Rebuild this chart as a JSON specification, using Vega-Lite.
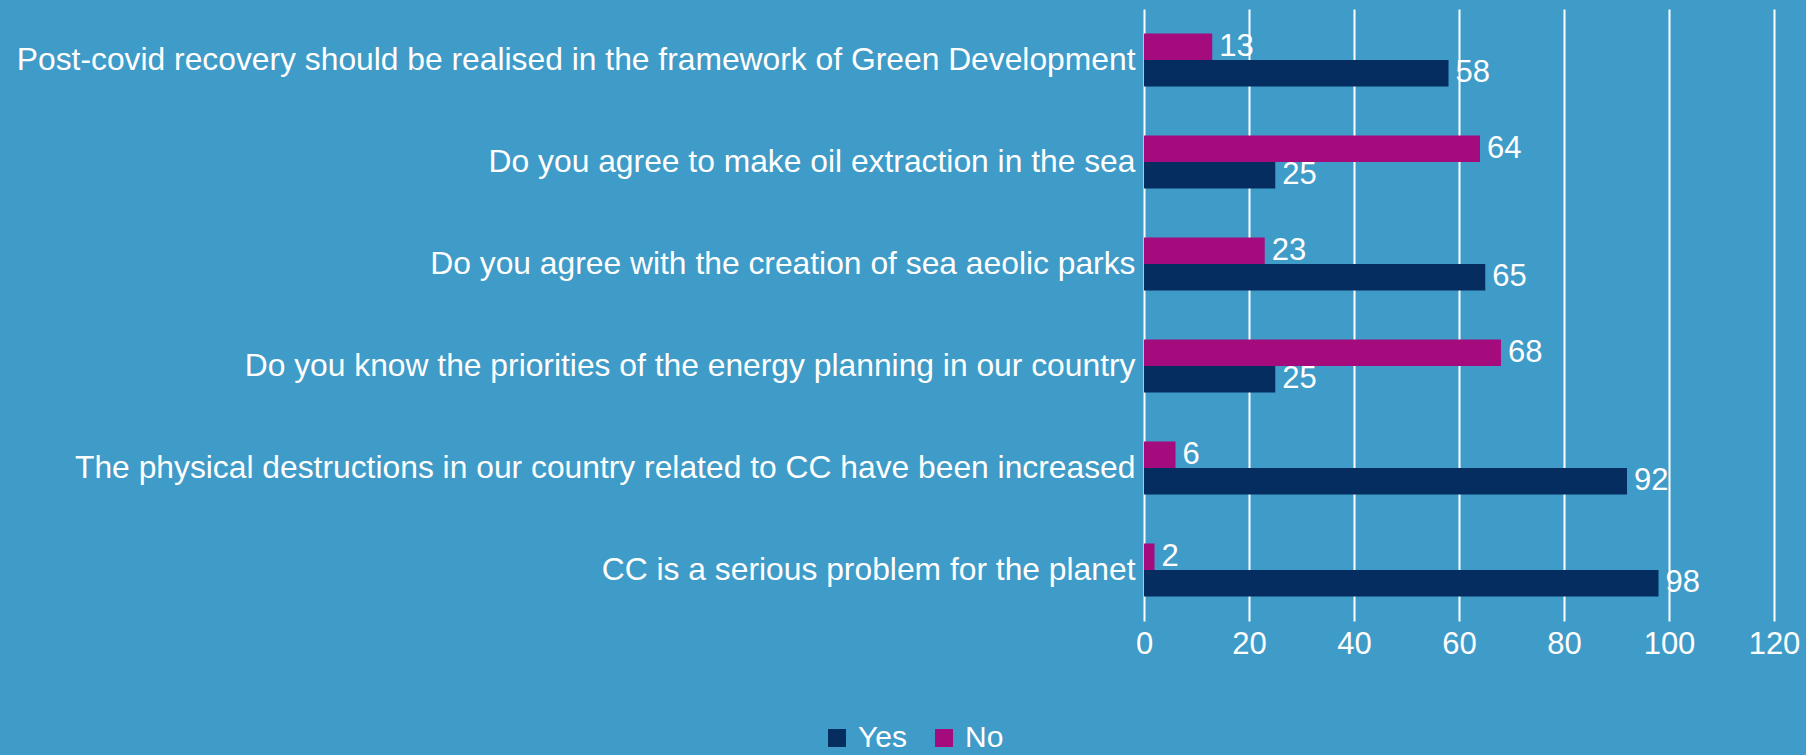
{
  "$schema": "https://vega.github.io/schema/vega-lite/v6.json",
  "width": 630,
  "height": 612,
  "autosize": {"type": "none"},
  "padding": {"left": 1144, "top": 9, "right": 32, "bottom": 134},
  "background": "#3f9bc7",
  "config": {
    "font": "Liberation Sans",
    "view": {"stroke": null}
  },
  "data": {
    "values": [
      {"question": "Post-covid recovery should be realised in the framework of Green Development", "answer": "Yes", "value": 58},
      {"question": "Post-covid recovery should be realised in the framework of Green Development", "answer": "No", "value": 13},
      {"question": "Do you agree to make oil extraction in the sea", "answer": "Yes", "value": 25},
      {"question": "Do you agree to make oil extraction in the sea", "answer": "No", "value": 64},
      {"question": "Do you agree with the creation of sea aeolic parks", "answer": "Yes", "value": 65},
      {"question": "Do you agree with the creation of sea aeolic parks", "answer": "No", "value": 23},
      {"question": "Do you know the priorities of the energy planning in our country", "answer": "Yes", "value": 25},
      {"question": "Do you know the priorities of the energy planning in our country", "answer": "No", "value": 68},
      {"question": "The physical destructions in our country related to CC have been increased", "answer": "Yes", "value": 92},
      {"question": "The physical destructions in our country related to CC have been increased", "answer": "No", "value": 6},
      {"question": "CC is a serious problem for the planet", "answer": "Yes", "value": 98},
      {"question": "CC is a serious problem for the planet", "answer": "No", "value": 2}
    ]
  },
  "encoding": {
    "y": {
      "field": "question",
      "type": "nominal",
      "sort": null,
      "title": null,
      "scale": {"paddingInner": 0.48, "paddingOuter": 0.24},
      "axis": {
        "domain": false,
        "ticks": false,
        "grid": false,
        "labelLimit": 0,
        "labelPadding": 9,
        "labelFontSize": 31.8,
        "labelColor": "white"
      }
    },
    "yOffset": {"field": "answer", "type": "nominal", "sort": ["No", "Yes"], "scale": {"paddingInner": 0, "paddingOuter": 0}},
    "x": {
      "field": "value",
      "type": "quantitative",
      "scale": {"domain": [0, 120]},
      "title": null,
      "axis": {
        "values": [0, 20, 40, 60, 80, 100, 120],
        "domain": false,
        "ticks": false,
        "grid": true,
        "gridColor": "white",
        "gridWidth": 2,
        "gridOpacity": 1,
        "labelFlush": false,
        "labelPadding": 8,
        "labelFontSize": 31,
        "labelColor": "white"
      }
    }
  },
  "layer": [
    {
      "mark": {"type": "bar"},
      "encoding": {
        "color": {
          "field": "answer",
          "type": "nominal",
          "scale": {"domain": ["Yes", "No"], "range": ["#052d5f", "#a40c7e"]},
          "legend": {
            "title": null,
            "orient": "none",
            "direction": "horizontal",
            "legendX": -322,
            "legendY": 714,
            "symbolType": "square",
            "symbolSize": 324,
            "symbolStrokeWidth": 0,
            "symbolOpacity": 1,
            "labelFontSize": 30,
            "labelColor": "white",
            "labelOffset": 6,
            "columnPadding": 22
          }
        }
      }
    },
    {
      "mark": {"type": "text", "align": "left", "baseline": "middle", "dx": 7, "fontSize": 31, "color": "white"},
      "encoding": {"text": {"field": "value", "type": "quantitative"}}
    }
  ]
}
